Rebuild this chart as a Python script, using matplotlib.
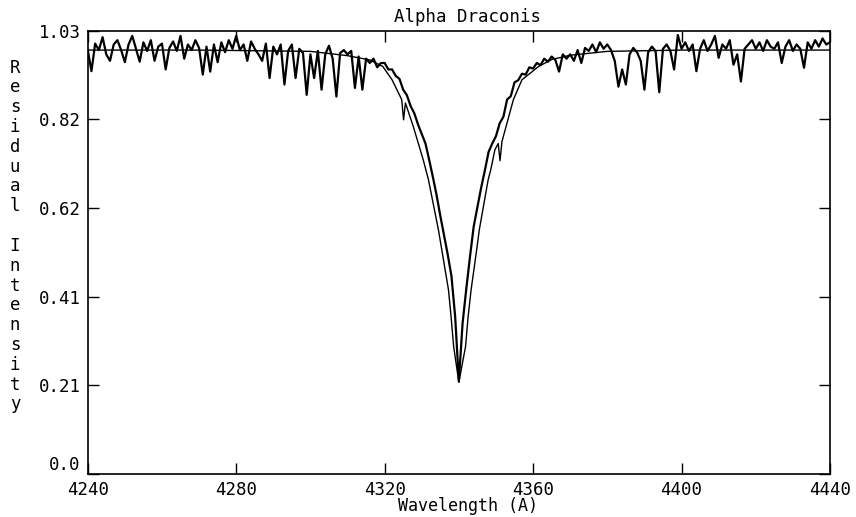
import numpy as np
import matplotlib
matplotlib.use('Agg')
import matplotlib.pyplot as plt

plt.rcParams['font.family'] = 'DejaVu Sans Mono'

# observed spectrum, sampled every 1 A from 4240 to 4440
obs_wave = np.arange(4240, 4441)
obs_flux = [
    0.985, 0.936, 1.0, 0.985, 1.015, 0.975, 0.96, 0.998, 1.008, 0.985,
    0.957, 0.998, 1.018, 0.988, 0.958, 1.003, 0.983, 1.008, 0.96, 0.993,
    1.0, 0.94, 0.99, 1.005, 0.983, 1.018, 0.965, 0.998, 0.985, 1.008,
    0.99, 0.928, 0.993, 0.935, 0.998, 0.957, 1.003, 0.98, 1.008, 0.988,
    1.018, 0.985, 0.998, 0.96, 1.005, 0.988, 0.975, 0.96, 1.0, 0.92,
    0.993, 0.975, 0.998, 0.905, 0.983, 0.998, 0.92, 0.988, 0.978, 0.881,
    0.975, 0.92, 0.983, 0.893, 0.975, 0.995, 0.965, 0.877, 0.978, 0.985,
    0.975, 0.983, 0.897, 0.97, 0.893, 0.965, 0.955, 0.965, 0.945, 0.955,
    0.955, 0.94, 0.94, 0.925, 0.918, 0.893, 0.88, 0.855, 0.838, 0.812,
    0.79, 0.768, 0.73, 0.69, 0.648, 0.6, 0.555, 0.51, 0.46, 0.366,
    0.215, 0.35, 0.43, 0.505, 0.575, 0.62, 0.665, 0.705, 0.748, 0.768,
    0.785, 0.815, 0.83, 0.87, 0.878, 0.91, 0.915, 0.93, 0.928, 0.945,
    0.942, 0.955, 0.95, 0.965, 0.958, 0.97, 0.962, 0.935, 0.975, 0.965,
    0.975, 0.96, 0.985, 0.955, 0.99, 0.983, 0.998, 0.98, 1.003, 0.988,
    0.998, 0.985, 0.96, 0.9, 0.94, 0.905, 0.975, 0.99, 0.98, 0.96,
    0.893, 0.98, 0.993, 0.983, 0.887, 0.988, 0.998, 0.983, 0.94, 1.02,
    0.988, 1.003, 0.983, 0.998, 0.936, 0.988, 1.008, 0.983, 0.998, 1.018,
    0.967, 0.998, 0.988, 1.008, 0.951, 0.975, 0.912, 0.988, 0.998, 1.008,
    0.988, 1.003, 0.983, 1.008, 0.993, 0.988, 1.003, 0.955, 0.993, 1.008,
    0.983, 0.998, 0.988, 0.944, 1.003, 0.988, 1.008, 0.993, 1.012, 0.998,
    1.003,
]

# synthetic profile (the slightly wider line)
syn_wave = [4240, 4270, 4300, 4310, 4316, 4319.5, 4322, 4324.6, 4325.1, 4325.6,
            4327.7, 4330.4, 4331.8, 4334.5, 4335.4, 4337.2, 4337.9, 4338.6, 4340.0, 4341.8,
            4342.5, 4343.3, 4344.8, 4345.5, 4347.9, 4348.6, 4349.7, 4350.6, 4351.1, 4351.6,
            4354.7, 4357.0, 4361.5, 4365.0, 4370, 4380, 4400, 4420, 4440]
syn_flux = [0.985, 0.985, 0.982, 0.972, 0.962, 0.947, 0.916, 0.870, 0.823, 0.862,
            0.808, 0.730, 0.684, 0.567, 0.521, 0.428, 0.366, 0.296, 0.213, 0.296,
            0.366, 0.428, 0.521, 0.567, 0.684, 0.707, 0.753, 0.768, 0.728, 0.772,
            0.870, 0.916, 0.947, 0.963, 0.973, 0.982, 0.985, 0.985, 0.985]

xticks = [4240, 4280, 4320, 4360, 4400, 4440]
yticks = [0.0, 0.206, 0.412, 0.618, 0.824, 1.03]
ytick_labels = ['0.0', '0.21', '0.41', '0.62', '0.82', '1.03']

fig = plt.figure(figsize=(8.56, 5.17), dpi=100)
ax = fig.add_axes([0.1025, 0.0832, 0.8671, 0.8574])

ax.plot(syn_wave, syn_flux, color='black', lw=1.0)
ax.plot(obs_wave, obs_flux, color='black', lw=1.6)

ax.set_xlim(4240, 4440)
ax.set_ylim(0, 1.03)
ax.set_xticks(xticks)
ax.set_yticks(yticks)
ax.set_yticklabels(ytick_labels)
ax.tick_params(direction='in', length=8, width=1, top=True, right=True,
               labelsize=12.5, pad=5)
# lift the "0.0" label a little so it clears the x tick labels
ax.get_yticklabels()[0].set_va('bottom')
for s in ax.spines.values():
    s.set_linewidth(1.2)

ax.set_title('Alpha Draconis', fontsize=12.5, x=0.512, pad=6)
ax.set_xlabel('Wavelength (A)', fontsize=12, va='center')
ax.xaxis.set_label_coords(0.512, -0.073)

fig.text(0.0175, 0.5435, '\n'.join('Residual Intensity'), ha='center', va='center',
         fontsize=12.5, linespacing=1.13)

fig.savefig('out.png', dpi=100)
